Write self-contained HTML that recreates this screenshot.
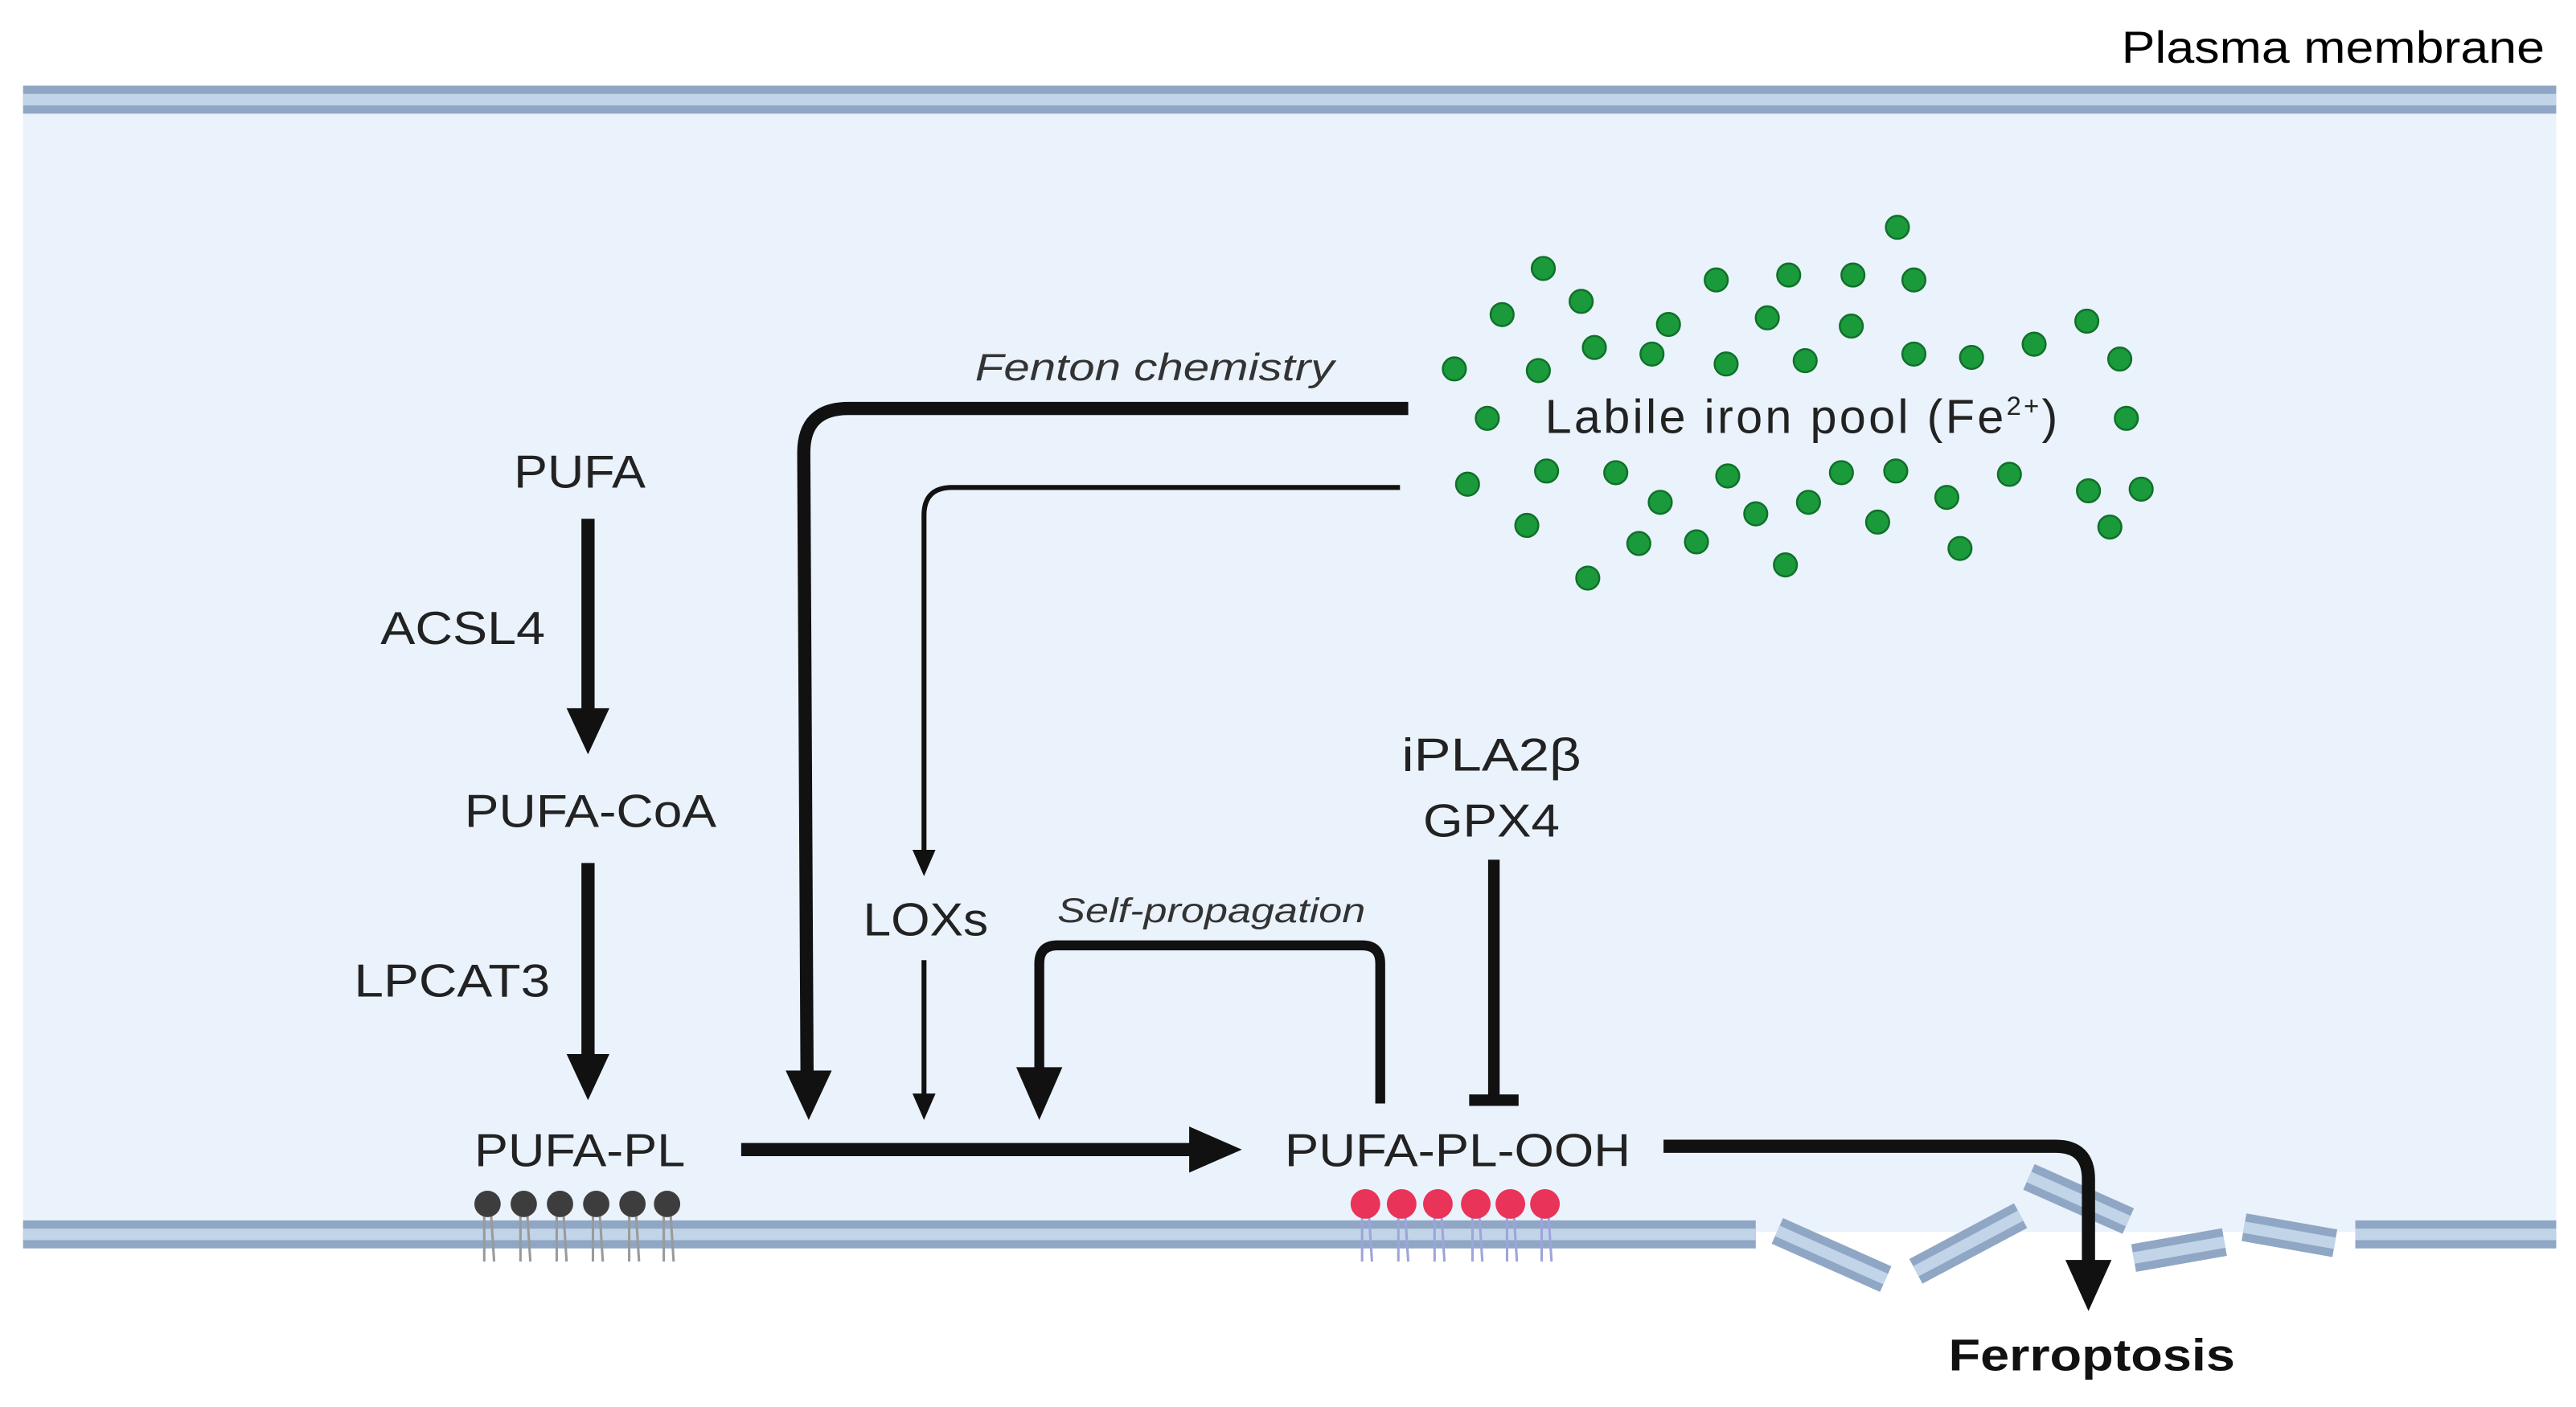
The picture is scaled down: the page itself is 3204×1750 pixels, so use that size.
<!DOCTYPE html>
<html><head><meta charset="utf-8"><style>html,body{margin:0;padding:0;background:#fff}svg{display:block}</style></head>
<body>
<svg width="3204" height="1750" viewBox="0 0 1564 854.3" preserveAspectRatio="none" xmlns="http://www.w3.org/2000/svg" font-family="Liberation Sans, sans-serif">
<rect x="14" y="60" width="1538" height="688" fill="#eaf2fb"/>
<rect x="14" y="52" width="1538" height="17" fill="#8fa7c4"/>
<rect x="14" y="57" width="1538" height="7" fill="#c2d4e8"/>
<rect x="14" y="741" width="1052" height="17" fill="#8fa7c4"/>
<rect x="14" y="746" width="1052" height="7" fill="#c2d4e8"/>
<rect x="1430" y="741" width="122" height="17" fill="#8fa7c4"/>
<rect x="1430" y="746" width="122" height="7" fill="#c2d4e8"/>
<g>
<g transform="translate(1112,762) rotate(24)"><rect x="-36" y="-8.5" width="72" height="17" fill="#8fa7c4"/><rect x="-36" y="-3.5" width="72" height="7" fill="#c2d4e8"/></g>
<g transform="translate(1195,755) rotate(-28)"><rect x="-36" y="-8.5" width="72" height="17" fill="#8fa7c4"/><rect x="-36" y="-3.5" width="72" height="7" fill="#c2d4e8"/></g>
<g transform="translate(1262,728) rotate(24)"><rect x="-33" y="-8.5" width="66" height="17" fill="#8fa7c4"/><rect x="-33" y="-3.5" width="66" height="7" fill="#c2d4e8"/></g>
<g transform="translate(1323,759) rotate(-10)"><rect x="-28" y="-8.5" width="56" height="17" fill="#8fa7c4"/><rect x="-28" y="-3.5" width="56" height="7" fill="#c2d4e8"/></g>
<g transform="translate(1390,750) rotate(10)"><rect x="-28" y="-8.5" width="56" height="17" fill="#8fa7c4"/><rect x="-28" y="-3.5" width="56" height="7" fill="#c2d4e8"/></g>
</g>
<text x="1288" y="38" font-size="27" textLength="257" lengthAdjust="spacingAndGlyphs" fill="#000">Plasma membrane</text>

<g stroke="#9a9a9a" stroke-width="1.5">
<path d="M294 735 L294 766 M298 735 L300 766 M316 735 L316 766 M320 735 L322 766 M338 735 L338 766 M342 735 L344 766 M360 735 L360 766 M364 735 L366 766 M382 735 L382 766 M386 735 L388 766 M403 735 L403 766 M407 735 L409 766"/>
</g>
<g fill="#3d3d3d"><circle cx="296" cy="731" r="8"/><circle cx="318" cy="731" r="8"/><circle cx="340" cy="731" r="8"/><circle cx="362" cy="731" r="8"/><circle cx="384" cy="731" r="8"/><circle cx="405" cy="731" r="8"/></g>
<g stroke="#9ea4dc" stroke-width="1.5">
<path d="M827 735 L827 766 M831 735 L833 766 M849 735 L849 766 M853 735 L855 766 M871 735 L871 766 M875 735 L877 766 M894 735 L894 766 M898 735 L900 766 M915 735 L915 766 M919 735 L921 766 M936 735 L936 766 M940 735 L942 766"/>
</g>
<g fill="#ea3358"><circle cx="829" cy="731" r="9"/><circle cx="851" cy="731" r="9"/><circle cx="873" cy="731" r="9"/><circle cx="896" cy="731" r="9"/><circle cx="917" cy="731" r="9"/><circle cx="938" cy="731" r="9"/></g>

<g fill="#1a9a3a" stroke="#10702a" stroke-width="1.2">
<circle cx="1152" cy="138" r="7"/><circle cx="937" cy="163" r="7"/><circle cx="960" cy="183" r="7"/><circle cx="1042" cy="170" r="7"/><circle cx="1086" cy="167" r="7"/><circle cx="1125" cy="167" r="7"/><circle cx="1162" cy="170" r="7"/><circle cx="912" cy="191" r="7"/><circle cx="1013" cy="197" r="7"/><circle cx="1073" cy="193" r="7"/><circle cx="1124" cy="198" r="7"/><circle cx="968" cy="211" r="7"/><circle cx="1003" cy="215" r="7"/><circle cx="1048" cy="221" r="7"/><circle cx="1096" cy="219" r="7"/><circle cx="1162" cy="215" r="7"/><circle cx="1197" cy="217" r="7"/><circle cx="1235" cy="209" r="7"/><circle cx="1267" cy="195" r="7"/><circle cx="1287" cy="218" r="7"/><circle cx="883" cy="224" r="7"/><circle cx="934" cy="225" r="7"/><circle cx="903" cy="254" r="7"/><circle cx="1291" cy="254" r="7"/><circle cx="891" cy="294" r="7"/><circle cx="939" cy="286" r="7"/><circle cx="981" cy="287" r="7"/><circle cx="1008" cy="305" r="7"/><circle cx="1049" cy="289" r="7"/><circle cx="1066" cy="312" r="7"/><circle cx="1098" cy="305" r="7"/><circle cx="1118" cy="287" r="7"/><circle cx="1151" cy="286" r="7"/><circle cx="1140" cy="317" r="7"/><circle cx="1182" cy="302" r="7"/><circle cx="1220" cy="288" r="7"/><circle cx="1268" cy="298" r="7"/><circle cx="1300" cy="297" r="7"/><circle cx="1281" cy="320" r="7"/><circle cx="927" cy="319" r="7"/><circle cx="995" cy="330" r="7"/><circle cx="1030" cy="329" r="7"/><circle cx="1190" cy="333" r="7"/><circle cx="1084" cy="343" r="7"/><circle cx="964" cy="351" r="7"/>
</g>

<g fill="#222" font-size="28" lengthAdjust="spacingAndGlyphs">
<text x="312" y="296" textLength="80" lengthAdjust="spacingAndGlyphs">PUFA</text>
<text x="231" y="391" textLength="100" lengthAdjust="spacingAndGlyphs">ACSL4</text>
<text x="282" y="502" textLength="153" lengthAdjust="spacingAndGlyphs">PUFA-CoA</text>
<text x="215" y="605" textLength="119" lengthAdjust="spacingAndGlyphs">LPCAT3</text>
<text x="288" y="708" textLength="128" lengthAdjust="spacingAndGlyphs">PUFA-PL</text>
<text x="780" y="708" textLength="210" lengthAdjust="spacingAndGlyphs">PUFA-PL-OOH</text>
<text x="524" y="568" textLength="76" lengthAdjust="spacingAndGlyphs">LOXs</text>
<text x="851" y="468" textLength="109" lengthAdjust="spacingAndGlyphs">iPLA2β</text>
<text x="864" y="508" textLength="83" lengthAdjust="spacingAndGlyphs">GPX4</text>
<text x="938" y="263" font-size="29" letter-spacing="1.6">Labile iron pool (Fe<tspan font-size="16" dy="-11">2+</tspan><tspan dy="11">)</tspan></text>
</g>
<text x="592" y="231" font-size="23" font-style="italic" fill="#333" textLength="218" lengthAdjust="spacingAndGlyphs">Fenton chemistry</text>
<text x="642" y="560" font-size="21" font-style="italic" fill="#333" textLength="187" lengthAdjust="spacingAndGlyphs">Self-propagation</text>
<text x="1183" y="832" font-size="27" font-weight="bold" fill="#111" textLength="174" lengthAdjust="spacingAndGlyphs">Ferroptosis</text>

<g stroke="#111" fill="none" stroke-linejoin="round">
<path d="M357 315 L357 435" stroke-width="8"/>
<path d="M357 524 L357 645" stroke-width="8"/>
<path d="M855 248 L515 248 Q488 248 488 275 L490 655" stroke-width="8"/>
<path d="M850 296 L578 296 Q561 296 561 313 L561 518" stroke-width="3"/>
<path d="M561 583 L561 668" stroke-width="3"/>
<path d="M838 670 L838 585 Q838 574 827 574 L642 574 Q631 574 631 585 L631 652" stroke-width="6"/>
<path d="M450 698 L728 698" stroke-width="8"/>
<path d="M907 522 L907 668" stroke-width="7"/>
<path d="M892 668 L922 668" stroke-width="7"/>
<path d="M1010 696 L1248 696 Q1268 696 1268 716 L1268 770" stroke-width="8"/>
</g>
<g fill="#111">
<path d="M344 430 L370 430 L357 458 Z"/>
<path d="M344 640 L370 640 L357 668 Z"/>
<path d="M477 650 L505 650 L491 680 Z"/>
<path d="M554 516 L568 516 L561 532 Z"/>
<path d="M554 664 L568 664 L561 680 Z"/>
<path d="M617 648 L645 648 L631 680 Z"/>
<path d="M722 684 L722 712 L754 698 Z"/>
<path d="M1254 765 L1282 765 L1268 796 Z"/>
</g>
</svg>
</body></html>
